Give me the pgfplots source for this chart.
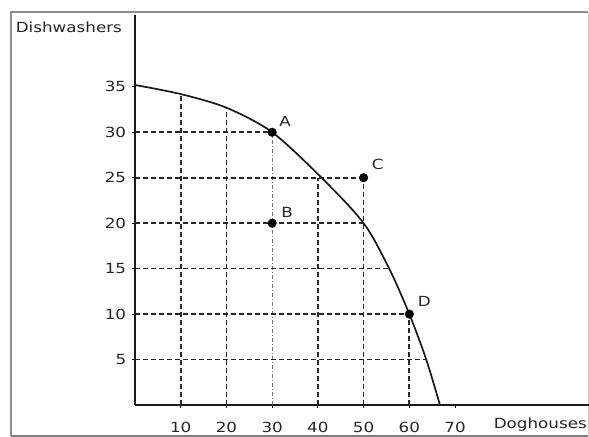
\documentclass[border=0pt]{standalone}
\usepackage{pgfplots}
\pgfplotsset{compat=1.18}
\usepackage{fontspec}
\setmainfont{DejaVu Sans}[FakeStretch=1.2]

\begin{document}
\fontsize{14}{16}\selectfont
\begin{tikzpicture}[x=1bp,y=1bp]
% outer frame
\draw[black!45, line width=1.4bp] (-124,-31) -- (-124,393) -- (453,393);
\draw[black!50, line width=1.2bp] (-124,-31) -- (453,-31);
\draw[black!20, line width=0.8bp] (453,-31) -- (453,393);

\begin{axis}[
    at={(0,0)}, anchor=origin,
    scale only axis,
    width=454bp, height=390bp,
    xmin=0, xmax=99.3,
    ymin=0, ymax=42.9,
    axis x line*=bottom,
    axis y line*=left,
    axis line style={line width=2.2bp, black!90},
    xtick={10,20,...,70},
    ytick={5,10,...,35},
    tick style={black, line width=1bp},
    major tick length=3bp,
    tick align=outside,
    xticklabel style={yshift=-9bp},
    yticklabel style={xshift=-1bp},
    /pgf/number format/assume math mode=true,
    ticklabel style={font=\fontsize{14}{16}\selectfont, text=black!85},
    clip=false,
]
% dashed guide lines
\pgfplotsset{guide/.style={black!85, line width=1.7bp, dash pattern=on 4.5bp off 3.5bp}}
\addplot[guide] coordinates {(10,0) (10,34.2)};
\addplot[guide] coordinates {(20,0) (20,32.7)};
\addplot[black!55, line width=0.9bp, dash pattern=on 4bp off 2bp on 1bp off 2bp] coordinates {(30,0) (30,30)};
\addplot[guide] coordinates {(40,0) (40,25)};
\addplot[guide] coordinates {(50,0) (50,25)};
\addplot[guide] coordinates {(60,0) (60,10)};
\addplot[guide] coordinates {(0,30) (30,30)};
\addplot[guide] coordinates {(0,25) (50,25)};
\addplot[guide] coordinates {(0,20) (50,20)};
\addplot[guide] coordinates {(0,15) (55.6,15)};
\addplot[guide] coordinates {(0,10) (60,10)};
\addplot[guide] coordinates {(0,5) (63.7,5)};

% production possibilities frontier
\addplot[black!90, line width=1.7bp, smooth] coordinates {
    (0,35.2) (10,34.2) (20,32.7) (30,30) (40.8,25) (50,20)
    (55.6,15) (60,10) (63.7,5) (66.7,0)
};

% points
\addplot[only marks, mark=*, mark size=4.3bp, black] coordinates {
    (30,30) (30,20) (50,25) (60,10)
};

\node[text=black!85] at (axis cs:30,30) [xshift=13bp, yshift=11bp] {A};
\node[text=black!85] at (axis cs:30,20) [xshift=15bp, yshift=11bp] {B};
\node[text=black!85] at (axis cs:50,25) [xshift=14bp, yshift=13bp] {C};
\node[text=black!85] at (axis cs:60,10) [xshift=15bp, yshift=13bp] {D};
\end{axis}

\node[anchor=west, text=black!85] at (-124,378) {Dishwashers};
\node[anchor=east, text=black!85, inner xsep=1bp] at (453,-20) {Doghouses};

\pgfresetboundingbox
\useasboundingbox (-135,-32) rectangle (454,405);
\end{tikzpicture}
\end{document}
